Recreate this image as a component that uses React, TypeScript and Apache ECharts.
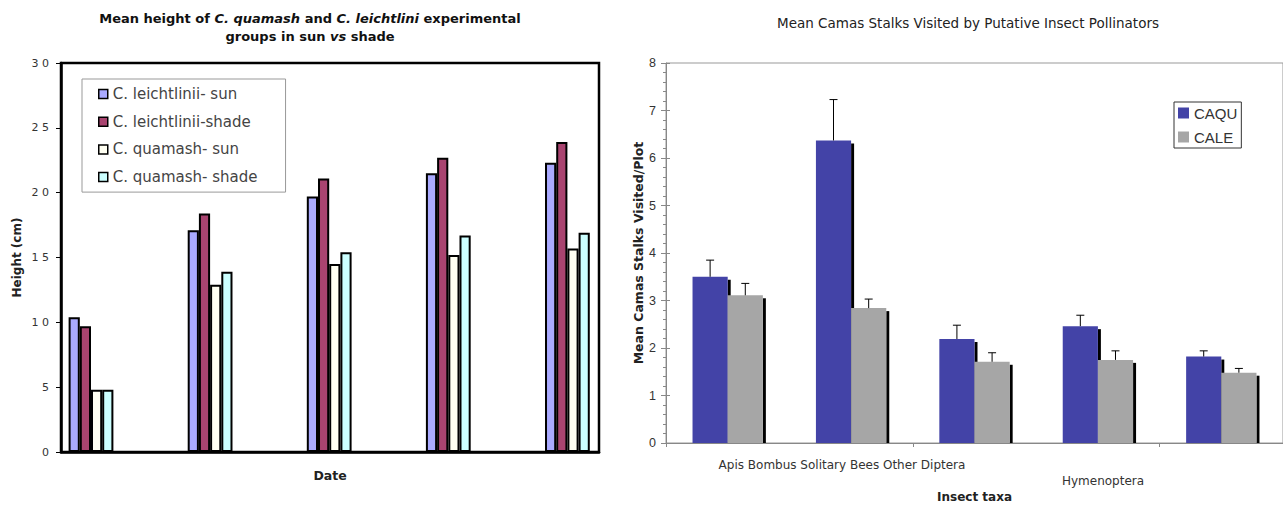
import React, { useEffect, useRef } from 'react';
import * as echarts from 'echarts';

// ---- Left chart data: mean height (cm) ----
const dates = ['Date 1', 'Date 2', 'Date 3', 'Date 4', 'Date 5'];
const leichtliniiSun = [10.4, 17.1, 19.7, 21.5, 22.3];
const leichtliniiShade = [9.7, 18.4, 21.1, 22.7, 23.9];
const quamashSun = [4.8, 12.9, 14.5, 15.2, 15.7];
const quamashShade = [4.8, 13.9, 15.4, 16.7, 16.9];
const heightNames = ['C. leichtlinii- sun', 'C. leichtlinii-shade', 'C. quamash- sun', 'C. quamash- shade'];

// ---- Right chart data: mean stalks visited ----
const taxa = ['Apis', 'Bombus', 'Solitary Bees', 'Other Hymenoptera', 'Diptera'];
const caqu = [3.5, 6.37, 2.19, 2.46, 1.82];
const cale = [3.11, 2.84, 1.71, 1.75, 1.48];
const caquErr = [0.35, 0.86, 0.29, 0.23, 0.12];
const caleErr = [0.25, 0.19, 0.19, 0.19, 0.09];
const taxaLabelLines = ['Apis Bombus Solitary Bees Other Diptera', 'Hymenoptera'];

const BAR_FRAC = 0.285;

export default function App() {
  const ref = useRef<HTMLDivElement>(null);

  useEffect(() => {
    document.body.style.margin = '0';
    if (!ref.current) return;
    const chart = echarts.init(ref.current, undefined, { renderer: 'svg' });

    const shadowData = [
      ...caqu.map((v, i) => [i, v, -1]),
      ...cale.map((v, i) => [i, v, 1]),
    ];
    const errData = [
      ...caqu.map((v, i) => [i, v, caquErr[i], -1]),
      ...cale.map((v, i) => [i, v, caleErr[i], 1]),
    ];

    const leftBarStyle = (color: string) => ({ color, borderColor: '#000', borderWidth: 2 });

    const option: any = {
      animation: false,
      backgroundColor: '#fff',
      title: [
        {
          text: 'Mean height of {i|C. quamash} and {i|C. leichtlini} experimental\ngroups in sun {i|vs} shade',
          left: 305,
          top: 4,
          textAlign: 'center',
          textStyle: {
            fontFamily: 'DejaVu Sans',
            fontWeight: 'bold',
            fontSize: 13,
            color: '#111',
            lineHeight: 18,
            rich: {
              i: { fontFamily: 'DejaVu Sans', fontWeight: 'bold', fontStyle: 'italic', fontSize: 13, color: '#111', lineHeight: 18 },
            },
          },
        },
        {
          text: 'Mean Camas Stalks Visited by Putative Insect Pollinators',
          left: 963,
          top: 11,
          textAlign: 'center',
          textStyle: { fontFamily: 'DejaVu Sans', fontWeight: 'normal', fontSize: 13.5, color: '#222' },
        },
      ],
      legend: [
        {
          data: heightNames,
          orient: 'vertical',
          left: 82,
          top: 79,
          padding: [7, 28, 7, 16],
          itemGap: 11.7,
          itemWidth: 9,
          itemHeight: 9,
          icon: 'rect',
          selectedMode: false,
          borderColor: '#999',
          borderWidth: 1,
          textStyle: { fontFamily: 'DejaVu Sans', fontSize: 15, color: '#444', lineHeight: 16 },
          itemStyle: { borderColor: '#000', borderWidth: 1.5 },
        },
        {
          data: ['CAQU', 'CALE'],
          orient: 'vertical',
          left: 1174,
          top: 102,
          padding: [3, 4, 3, 4],
          itemGap: 8,
          itemWidth: 11,
          itemHeight: 11,
          icon: 'rect',
          selectedMode: false,
          borderColor: '#333',
          borderWidth: 1,
          textStyle: { fontFamily: 'Liberation Sans', fontSize: 15, color: '#333', lineHeight: 16 },
          itemStyle: { borderWidth: 0 },
        },
      ],
      grid: [
        { left: 61, top: 63, width: 538, height: 389, show: true, borderColor: '#000', borderWidth: 2.5, backgroundColor: 'transparent' },
        { left: 31.45, top: 63, width: 595.5, height: 389 },
        { left: 666, top: 63, width: 620, height: 383, show: true, borderColor: '#999', borderWidth: 1, backgroundColor: 'transparent' },
      ],
      xAxis: [
        {
          gridIndex: 0,
          type: 'value',
          min: 0,
          max: 1,
          axisLabel: { show: false },
          axisTick: { show: false },
          splitLine: { show: false },
          axisLine: { show: true, lineStyle: { color: '#000', width: 2.5 } },
          name: 'Date',
          nameLocation: 'middle',
          nameGap: 17,
          nameTextStyle: { fontFamily: 'DejaVu Sans', fontWeight: 'bold', fontSize: 12.5, color: '#222' },
        },
        { gridIndex: 1, type: 'category', data: dates, show: false },
        {
          gridIndex: 2,
          type: 'category',
          data: taxa,
          axisLine: { show: true, lineStyle: { color: '#888', width: 1 } },
          axisTick: { show: true, length: 4, lineStyle: { color: '#888' } },
          axisLabel: { show: false },
          splitLine: { show: false },
          name: 'Insect taxa',
          nameLocation: 'middle',
          nameGap: 48,
          nameTextStyle: { fontFamily: 'DejaVu Sans', fontWeight: 'bold', fontSize: 12, color: '#222' },
        },
      ],
      yAxis: [
        {
          gridIndex: 0,
          type: 'value',
          min: 0,
          max: 30,
          interval: 5,
          axisLine: { show: true, lineStyle: { color: '#000', width: 2.5 } },
          axisTick: { show: true, length: 5, lineStyle: { color: '#000', width: 1 } },
          splitLine: { show: false },
          axisLabel: {
            formatter: (v: number) => String(v).split('').join(' '),
            fontFamily: 'DejaVu Sans',
            fontSize: 11,
            color: '#333',
            margin: 12,
          },
          name: 'Height (cm)',
          nameLocation: 'middle',
          nameGap: 38,
          nameTextStyle: { fontFamily: 'DejaVu Sans', fontWeight: 'bold', fontSize: 12, color: '#222' },
        },
        { gridIndex: 1, type: 'value', min: 0, max: 30, show: false },
        {
          gridIndex: 2,
          type: 'value',
          position: 'left',
          min: 0,
          max: 8,
          interval: 1,
          axisLine: { show: true, lineStyle: { color: '#888', width: 1 } },
          axisTick: { show: true, length: 5, lineStyle: { color: '#888' } },
          minorTick: { show: true, splitNumber: 5, length: 3, lineStyle: { color: '#888' } },
          splitLine: { show: false },
          minorSplitLine: { show: false },
          axisLabel: { fontFamily: 'Liberation Sans', fontSize: 12.5, color: '#333', margin: 10 },
          name: 'Mean Camas Stalks Visited/Plot',
          nameLocation: 'middle',
          nameGap: 21,
          nameTextStyle: { fontFamily: 'DejaVu Sans', fontWeight: 'bold', fontSize: 12.5, color: '#222' },
        },
        {
          gridIndex: 2,
          type: 'value',
          position: 'left',
          offset: 0,
          min: 0,
          max: 8,
          interval: 1,
          axisLine: { show: false },
          axisTick: { show: true, inside: true, length: 4, lineStyle: { color: '#888' } },
          axisLabel: { show: false },
          splitLine: { show: false },
        },
      ],
      graphic: [
        {
          type: 'text',
          x: 842,
          y: 465,
          style: { text: taxaLabelLines[0], fontFamily: 'DejaVu Sans', fontSize: 12, fill: '#333', align: 'center', verticalAlign: 'middle' },
        },
        {
          type: 'text',
          x: 1103,
          y: 481,
          style: { text: taxaLabelLines[1], fontFamily: 'DejaVu Sans', fontSize: 12, fill: '#333', align: 'center', verticalAlign: 'middle' },
        },
      ],
      series: [
        { name: heightNames[0], type: 'bar', xAxisIndex: 1, yAxisIndex: 1, data: leichtliniiSun, barWidth: '9.4%', barGap: '0%', itemStyle: leftBarStyle('#AAAAFF') },
        { name: heightNames[1], type: 'bar', xAxisIndex: 1, yAxisIndex: 1, data: leichtliniiShade, barWidth: '9.4%', barGap: '0%', itemStyle: leftBarStyle('#A94470') },
        { name: heightNames[2], type: 'bar', xAxisIndex: 1, yAxisIndex: 1, data: quamashSun, barWidth: '9.4%', barGap: '0%', itemStyle: leftBarStyle('#FFFFF2') },
        { name: heightNames[3], type: 'bar', xAxisIndex: 1, yAxisIndex: 1, data: quamashShade, barWidth: '9.4%', barGap: '0%', itemStyle: leftBarStyle('#CCFFFF') },
        {
          name: 'CAQU-shadow',
          type: 'custom',
          xAxisIndex: 2,
          yAxisIndex: 2,
          z: 1,
          data: shadowData,
          renderItem: (params: any, api: any) => {
            const cat = api.value(0);
            const v = api.value(1);
            const side = api.value(2);
            const bw = api.size([1, 0])[0] * BAR_FRAC;
            const c = api.coord([cat, v]);
            const base = api.coord([cat, 0]);
            const xr = c[0] + (side < 0 ? 0 : bw);
            return {
              type: 'rect',
              shape: { x: xr, y: c[1] + 3, width: 3, height: base[1] - c[1] - 3 },
              style: { fill: '#000' },
            };
          },
        },
        { name: 'CAQU', type: 'bar', xAxisIndex: 2, yAxisIndex: 2, data: caqu, barWidth: '28.5%', barGap: '0%', z: 2, itemStyle: { color: '#4343A7' } },
        { name: 'CALE', type: 'bar', xAxisIndex: 2, yAxisIndex: 2, data: cale, barWidth: '28.5%', barGap: '0%', z: 2, itemStyle: { color: '#A6A6A6' } },
        {
          name: 'error',
          type: 'custom',
          xAxisIndex: 2,
          yAxisIndex: 2,
          z: 3,
          data: errData,
          renderItem: (params: any, api: any) => {
            const cat = api.value(0);
            const v = api.value(1);
            const e = api.value(2);
            const side = api.value(3);
            const bw = api.size([1, 0])[0] * BAR_FRAC;
            const c = api.coord([cat, v]);
            const hi = api.coord([cat, v + e]);
            const x = c[0] + (side * bw) / 2;
            const st = { stroke: '#000', lineWidth: 1 };
            return {
              type: 'group',
              children: [
                { type: 'line', shape: { x1: x, y1: c[1], x2: x, y2: hi[1] }, style: st },
                { type: 'line', shape: { x1: x - 4, y1: hi[1], x2: x + 4, y2: hi[1] }, style: st },
              ],
            };
          },
        },
      ],
    };

    chart.setOption(option);
    return () => chart.dispose();
  }, []);

  return <div ref={ref} style={{ width: 1283, height: 508 }} />;
}
